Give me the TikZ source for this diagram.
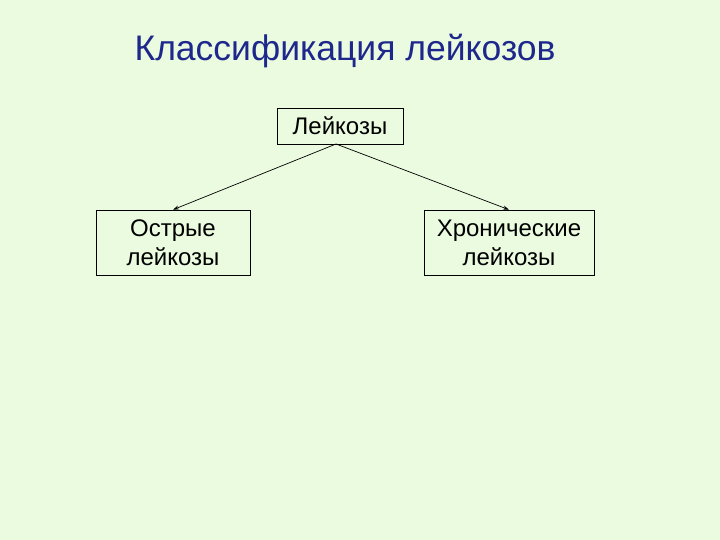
\documentclass[tikz,border=0pt]{standalone}
\usepackage{fontspec}
\setmainfont{Liberation Sans}
\usetikzlibrary{arrows.meta}
\definecolor{bg}{RGB}{235,251,224}
\definecolor{ttl}{RGB}{30,40,140}
\tikzset{
  box/.style={draw=black, line width=0.6pt, inner sep=0pt, align=center, font=\fontsize{24}{29}\selectfont},
  conn/.style={-{Stealth[length=6pt,width=4pt]}, line width=0.7pt}
}
\begin{document}
\begin{tikzpicture}[x=1pt,y=1pt]
\fill[bg] (0,0) rectangle (720,540);
\useasboundingbox (0,0) rectangle (720,540);
\node[text=ttl, font=\fontsize{35.5}{40}\selectfont] (title) at (345,489) {Классификация лейкозов};
\node[box, minimum width=126pt, minimum height=36pt] (top) at (340,414) {Лейкозы};
\node[box, minimum width=154pt, minimum height=65pt] (left) at (173,297.5) {Острые\\лейкозы};
\node[box, minimum width=170pt, minimum height=65pt] (right) at (509,297.5) {Хронические\\лейкозы};
\coordinate (s) at (336,396);
\draw[conn] (s) -- (left.north);
\draw[conn] (s) -- (right.north);
\end{tikzpicture}
\end{document}
